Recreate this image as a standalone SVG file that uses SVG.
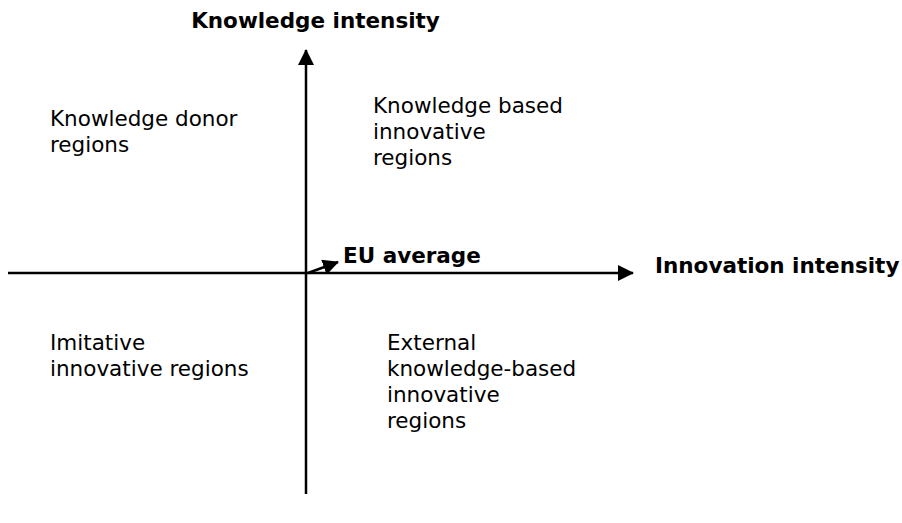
<svg xmlns="http://www.w3.org/2000/svg" width="902" height="523" viewBox="0 0 902 523">
<style>
text{font-family:"DejaVu Sans",Verdana,sans-serif;fill:#000;font-size:21.5px}
.b{font-weight:bold}
.ax{stroke:#000;stroke-width:2.5;fill:none}
</style>
<defs>
<marker id="ah" markerWidth="16" markerHeight="16" refX="15" refY="8" orient="auto" markerUnits="userSpaceOnUse">
<path d="M0,0 L16,8 L0,16 Z" fill="#000"/>
</marker>
</defs>
<rect width="902" height="523" fill="#fff"/>
<g id="connectors">
<line class="ax" x1="306" y1="494" x2="306" y2="50" marker-end="url(#ah)"/>
<line class="ax" x1="8" y1="273" x2="633" y2="273" marker-end="url(#ah)"/>
<line class="ax" x1="308" y1="273" x2="338" y2="262" marker-end="url(#ah)"/>
</g>
<g id="y-label"><text class="b" x="315.5" y="28" text-anchor="middle">Knowledge intensity</text></g>
<g id="x-label"><text class="b" x="655" y="273">Innovation intensity</text></g>
<g id="eu-average"><text class="b" x="343" y="263">EU average</text></g>
<g id="q-donor"><text x="50" y="126">Knowledge donor</text><text x="50" y="152">regions</text></g>
<g id="q-based"><text x="373" y="113">Knowledge based</text><text x="373" y="139">innovative</text><text x="373" y="165">regions</text></g>
<g id="q-imitative"><text x="50" y="350">Imitative</text><text x="50" y="376">innovative regions</text></g>
<g id="q-external"><text x="387" y="350">External</text><text x="387" y="376">knowledge-based</text><text x="387" y="402">innovative</text><text x="387" y="428">regions</text></g>
</svg>
